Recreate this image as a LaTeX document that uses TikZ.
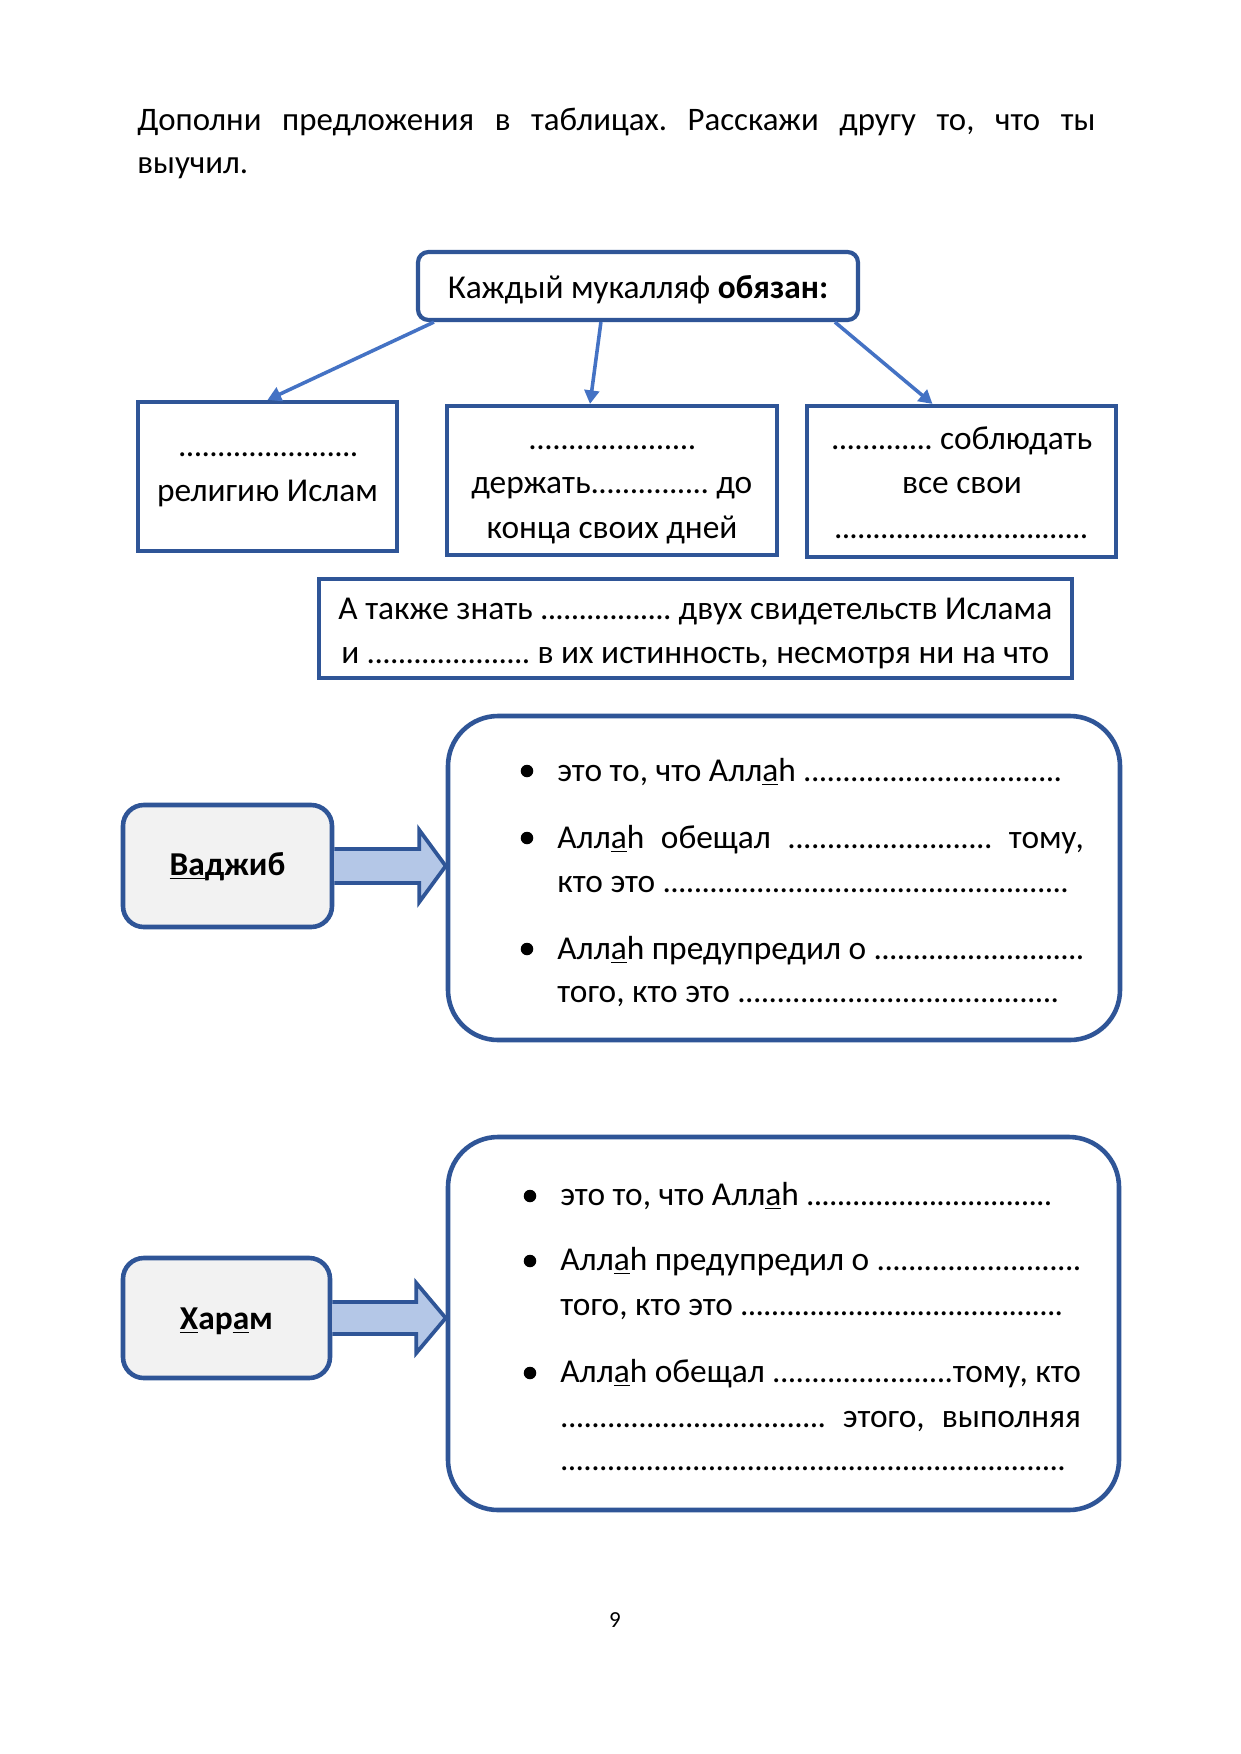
\documentclass[tikz,border=0pt]{standalone}
\usepackage{fontspec}
\setmainfont{Carlito}
\usetikzlibrary{arrows.meta,calc}
\definecolor{bord}{HTML}{2F5597}
\definecolor{conn}{HTML}{4472C4}
\definecolor{afill}{HTML}{B4C7E7}
\definecolor{gfill}{HTML}{F2F2F2}
\frenchspacing
\newcommand\pu{0.4794pt}
\newcommand\pw[1]{\dimexpr\pu*#1\relax}
\newcommand\ld{\xleaders\hbox to 0.23em{\hss.\hss}\hfill}
\newcommand\lf[1]{\hbox to \pw{#1}{\ld}}
\newcommand\ua{\underline{а}}
\newcommand\jl[2]{\makebox[\pw{#1}][s]{#2}}
\begin{document}
\begin{tikzpicture}[x=\pu,y=-\pu,
  sqbox/.style={draw=bord,line width=2pt,inner sep=0pt},
  topbox/.style={draw=bord,line width=2pt,inner sep=0pt,rounded corners=5pt},
  rbox/.style={draw=bord,line width=2.2pt,fill=gfill,inner sep=0pt,rounded corners=10pt},
  bigbox/.style={draw=bord,line width=2.2pt,inner sep=0pt,rounded corners=24pt},
  conn/.style={draw=conn,line width=1.7pt,-{Triangle[length=6.5pt,width=7pt]}},
  barrow/.style={draw=bord,line width=1.8pt,fill=afill,line join=miter},
  bul/.style={circle,fill=black,inner sep=0pt,minimum size=6pt},
  tx/.style={inner sep=0pt,anchor=base west},
  tc/.style={inner sep=0pt,anchor=base},
  fT/.style={font=\fontsize{15.75}{19}\selectfont},
  fTop/.style={font=\fontsize{16}{19}\selectfont},
  fB/.style={font=\fontsize{16}{19}\selectfont},
  fBot/.style={font=\fontsize{16}{19}\selectfont},
  fL/.style={font=\fontsize{16}{19}\selectfont},
  fV/.style={font=\fontsize{16}{19}\selectfont\bfseries},
]
\path[fill=white,use as bounding box] (0,0) rectangle (1241,1754);

% title
\node[tx,fT] (t1) at (137,130) {\jl{958}{Дополни предложения в таблицах. Расскажи другу то, что ты}};
\node[tx,fT] (t2) at (137,173) {выучил.};

% top box and three boxes
\node[topbox,minimum width=440*\pu,minimum height=68*\pu] (top) at (638,286) {};
\node[tc,fTop] (toptext) at (638,298) {Каждый мукалляф \textbf{обязан:}};
\node[sqbox,minimum width=259*\pu,minimum height=149*\pu] (L) at (267.5,476.5) {};
\node[sqbox,minimum width=330*\pu,minimum height=149*\pu] (M) at (612,480.5) {};
\node[sqbox,minimum width=309*\pu,minimum height=151*\pu] (R) at (961.5,481.5) {};
\node[sqbox,minimum width=753*\pu,minimum height=99*\pu] (B) at (695.5,628.5) {};

\draw[conn] ($(top.south west)+(18,0)$) -- (L.north);
\draw[conn] ($(top.south west)+(185,0)$) -- ($(M.north)+(-22,0)$);
\draw[conn] ($(top.south west)+(419,0)$) -- ($(R.north)+(-29,0)$);

\node[tx,fB] (l1) at (178,456) {\lf{180}};
\node[tc,fB] (l2) at (267.5,501) {религию Ислам};
\node[tx,fB] (m1) at (528,449) {\lf{168}};
\node[tx,fB] (m2) at (471,493) {\jl{281}{держать\ld{} до}};
\node[tc,fB] (m3) at (612,538) {конца своих дней};
\node[tx,fB] (r1) at (831,449) {\jl{261}{\ld{} соблюдать}};
\node[tc,fB] (r2) at (962,493) {все свои};
\node[tx,fB] (r3) at (834,538) {\lf{254}};
\node[tx,fBot] (b1) at (338,619) {\jl{714}{А также знать \ld{} двух свидетельств Ислама}};
\node[tx,fBot] (b2) at (341,663) {\jl{708}{и \ld{} в их истинность, несмотря ни на что}};

% Vajib section
\node[rbox,minimum width=209*\pu,minimum height=122*\pu] (V) at (227.5,866) {};
\node[bigbox,minimum width=672*\pu,minimum height=324*\pu] (W) at (784,878) {};
\draw[barrow] ($(V.east)+(0,-17)$) -- ($(V.east)+(85,-17)$) -- ($(V.east)+(85,-36)$)
  -- (W.west |- V.east) -- ($(V.east)+(85,36)$) -- ($(V.east)+(85,17)$) -- ($(V.east)+(0,17)$);
\node[tc,fV] (vt) at (227.5,875) {\underline{Ва}джиб};

\node[bul] (vb1) at (527,771) {};
\node[bul] (vb2) at (527,838) {};
\node[bul] (vb3) at (527,949) {};
\node[tx,fL] (v1) at (557,781) {\jl{505}{это то, что Алл\ua h \ld}};
\node[tx,fL] (v2) at (557,848) {\jl{527}{Алл\ua h обещал \lf{205} тому,}};
\node[tx,fL] (v3) at (557,892) {\jl{512}{кто это \ld}};
\node[tx,fL] (v4) at (557,959) {\jl{527}{Алл\ua h предупредил о \ld}};
\node[tx,fL] (v5) at (557,1002) {\jl{502}{того, кто это \ld}};

% Haram section
\node[rbox,minimum width=207*\pu,minimum height=120*\pu] (H) at (226.5,1318) {};
\node[bigbox,minimum width=671*\pu,minimum height=373*\pu] (X) at (783.5,1323.5) {};
\draw[barrow] ($(H.east)+(0,-16)$) -- ($(H.east)+(84,-16)$) -- ($(H.east)+(84,-35)$)
  -- (X.west |- H.east) -- ($(H.east)+(84,35)$) -- ($(H.east)+(84,16)$) -- ($(H.east)+(0,16)$);
\node[tc,fV] (ht) at (226.5,1329) {\underline{Х}ар\underline{а}м};

\node[bul] (hb1) at (530,1196) {};
\node[bul] (hb2) at (530,1261) {};
\node[bul] (hb3) at (530,1373) {};
\node[tx,fL] (h1) at (560,1205) {\jl{492}{это то, что Алл\ua h \ld}};
\node[tx,fL] (h2) at (560,1270) {\jl{521}{Алл\ua h предупредил о \ld}};
\node[tx,fL] (h3) at (560,1315) {\jl{503}{того, кто это \ld}};
\node[tx,fL] (h4) at (560,1382) {\jl{521}{Алл\ua h обещал \ld тому, кто}};
\node[tx,fL] (h5) at (560,1427) {\jl{521}{\lf{266} этого, выполняя}};
\node[tx,fL] (h6) at (560,1470) {\lf{506}};

\node[tc,font=\fontsize{11}{13}\selectfont] (pg) at (615,1627) {9};
\end{tikzpicture}
\end{document}
